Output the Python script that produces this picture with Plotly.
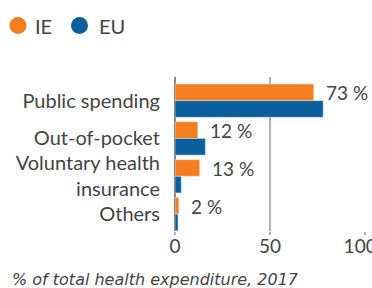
import plotly.graph_objects as go

categories = ["Public spending", "Out-of-pocket", "Voluntary health<br>insurance", "Others"]
ie_values = [73, 12, 13, 2]
eu_values = [78, 16, 3.3, 1.6]
ie_labels = ["73 %", "12 %", "13 %", "2 %"]
x_ticks = [0, 50, 100]
x_tick_labels = ["0", "50", "100"]
legend_names = ["IE", "EU"]

ORANGE = "#F47D20"
BLUE = "#0B5F9B"
TEXT = "#444444"
FONT = "Lato"

W, H = 372, 288
ML, MR, MT, MB = 175, 7, 77, 57
pw = W - ML - MR
ph = H - MT - MB

fig = go.Figure()
fig.add_trace(go.Bar(y=categories, x=ie_values, orientation="h", marker_color=ORANGE,
                     name="IE", showlegend=False))
fig.add_trace(go.Bar(y=categories, x=eu_values, orientation="h", marker_color=BLUE,
                     name="EU", showlegend=False))

for c, v, t in zip(categories, ie_values, ie_labels):
    fig.add_annotation(x=v, y=c, text=t, showarrow=False, xanchor="left", yanchor="middle",
                       xshift=10, yshift=8, font=dict(family=FONT, size=19, color=TEXT))

# legend (circles + labels) above the plot
leg_cy = MT - 25.5          # pixels above plot top
for name, col, cx, tx in zip(legend_names, [ORANGE, BLUE], [18, 79.5], [33.3, 96.7]):
    fig.add_shape(type="circle", xref="paper", yref="paper", xsizemode="pixel", ysizemode="pixel",
                  xanchor=0, yanchor=1, x0=cx - ML - 8.5, x1=cx - ML + 8.5,
                  y0=leg_cy - 8.5, y1=leg_cy + 8.5, fillcolor=col, line_width=0)
    fig.add_annotation(xref="paper", yref="paper", x=0, y=1, xshift=tx - ML, yshift=leg_cy,
                       text=name, showarrow=False, xanchor="left", yanchor="middle",
                       font=dict(family=FONT, size=20, color=TEXT))

fig.add_annotation(xref="paper", yref="paper", x=0, y=0, xshift=10 - ML, yshift=-(H - (MT + ph)) - 3,
                   text="<i>% of total health expenditure, 2017</i>", showarrow=False,
                   xanchor="left", yanchor="bottom", font=dict(family="DejaVu Sans", size=16, color=TEXT))

# last tick label nudged left (as in the reference) with trailing non-breaking spaces
tick_text = x_tick_labels[:-1] + [x_tick_labels[-1] + "\u00a0\u00a0"]

fig.update_layout(
    width=W, height=H,
    margin=dict(l=ML, r=MR, t=MT, b=MB, autoexpand=False),
    paper_bgcolor="white", plot_bgcolor="white",
    barmode="group", bargap=0.12, bargroupgap=0,
    font=dict(family=FONT, size=20, color=TEXT),
    showlegend=False,
    xaxis=dict(range=[0, 100], tickvals=x_ticks, ticktext=tick_text,
               showgrid=True, gridcolor="#B0B0B0", gridwidth=1.5,
               zeroline=True, zerolinecolor="#888888", zerolinewidth=1.5,
               ticks="outside", ticklen=3, tickcolor="#B0B0B0", tickwidth=1.5, showline=False,
               ticklabelstandoff=-5, ticklabeloverflow="allow",
               tickfont=dict(family=FONT, size=19, color=TEXT), fixedrange=True),
    yaxis=dict(range=[3.445, -0.625], showgrid=False, zeroline=False, showline=False,
               ticks="", ticklabelstandoff=14, automargin=False,
               tickfont=dict(family=FONT, size=20, color=TEXT), fixedrange=True),
)

fig.write_html("out.html", config={"displayModeBar": False},
               post_script="document.body.style.margin='0';"
                           "document.documentElement.style.overflow='hidden';")
